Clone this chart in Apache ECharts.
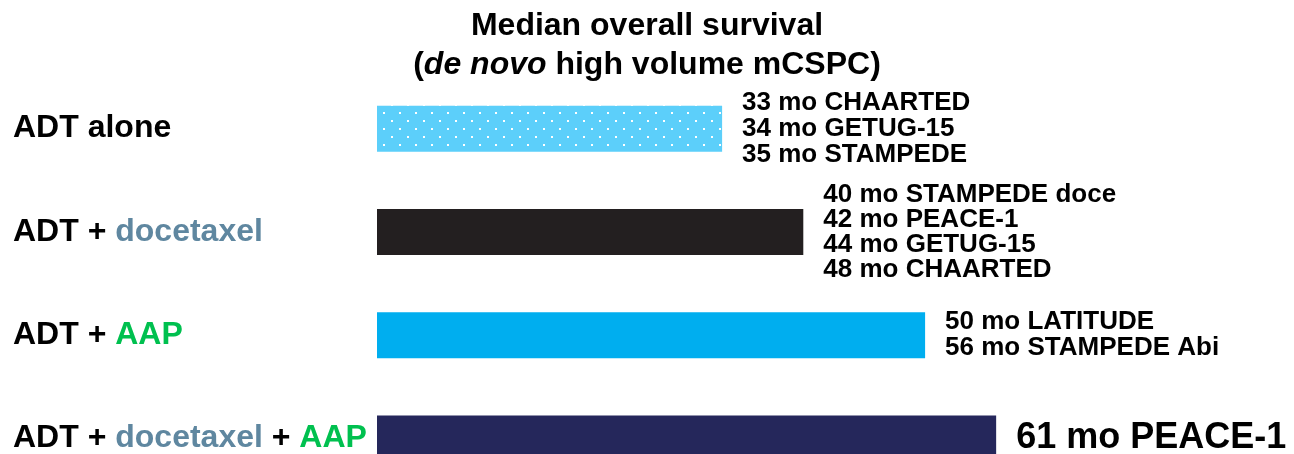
<!DOCTYPE html>
<html>
<head>
<meta charset="utf-8">
<script src="https://cdn.jsdelivr.net/npm/echarts@6/dist/echarts.min.js"></script>
<style>
  html, body { margin: 0; padding: 0; background: #fff; }
  #chart { width: 1294px; height: 454px; }
</style>
</head>
<body>
<div id="chart"></div>
<script>
// Treatment arms (top to bottom)
const categories = ['ADT alone', 'ADT + docetaxel', 'ADT + AAP', 'ADT + docetaxel + AAP'];
// Median overall survival drawn for each arm (months)
const medianOS = [34, 42, 54, 61];
// Trial results listed beside each bar
const trialNotes = [
  ['33 mo CHAARTED', '34 mo GETUG-15', '35 mo STAMPEDE'],
  ['40 mo STAMPEDE doce', '42 mo PEACE-1', '44 mo GETUG-15', '48 mo CHAARTED'],
  ['50 mo LATITUDE', '56 mo STAMPEDE Abi'],
  ['61 mo PEACE-1']
];
const barColors = ['#5ccffa', '#231f20', '#00aeef', '#25275b'];

const FONT = "'Liberation Sans', Arial, Helvetica, sans-serif";

// Dotted fill for the ADT-alone bar
function dotPattern() {
  const c = document.createElement('canvas');
  c.width = 16; c.height = 16;
  const g = c.getContext('2d');
  g.fillStyle = barColors[0];
  g.fillRect(0, 0, 16, 16);
  g.fillStyle = '#ffffff';
  g.fillRect(7, 8, 2, 2);
  g.fillRect(15, 0, 2, 2);
  g.fillRect(-1, 0, 2, 2);
  return c;
}

const chart = echarts.init(document.getElementById('chart'), null, { renderer: 'canvas' });

const seriesData = medianOS.map((v, i) => {
  const last = i === medianOS.length - 1;
  return {
    value: v,
    itemStyle: { color: i === 0 ? { image: dotPattern(), repeat: 'repeat' } : barColors[i] },
    label: {
      fontSize: last ? 36 : 26,
      lineHeight: last ? 40 : (i === 1 ? 25 : 26)
    }
  };
});

chart.setOption({
  animation: false,
  backgroundColor: '#ffffff',
  title: {
    left: 'center',
    top: 2,
    text: '{n|Median overall survival}\n{n|(}{i|de novo}{n| high volume mCSPC)}',
    textStyle: {
      rich: {
        n: { fontFamily: FONT, fontWeight: 'bold', fontSize: 32, lineHeight: 39, color: '#000' },
        i: { fontFamily: FONT, fontWeight: 'bold', fontStyle: 'italic', fontSize: 32, lineHeight: 39, color: '#000' }
      }
    }
  },
  grid: {
    left: 377,
    top: 77,
    width: 812,
    height: 413,
    outerBoundsMode: 'none',
    containLabel: false
  },
  xAxis: {
    type: 'value',
    min: 0,
    max: 80,
    show: false,
    splitLine: { show: false }
  },
  yAxis: {
    type: 'category',
    inverse: true,
    data: categories,
    axisLine: { show: false },
    axisTick: { show: false },
    splitLine: { show: false },
    axisLabel: {
      align: 'left',
      margin: 364,
      formatter: function (value) {
        return value.split(' ').map(function (w) {
          if (w === 'docetaxel') return '{doc|docetaxel}';
          if (w === 'AAP') return '{aap|AAP}';
          return '{b|' + w + '}';
        }).join('{b| }');
      },
      rich: {
        b: { fontFamily: FONT, fontWeight: 'bold', fontSize: 32, color: '#000' },
        doc: { fontFamily: FONT, fontWeight: 'bold', fontSize: 32, color: '#5f87a0' },
        aap: { fontFamily: FONT, fontWeight: 'bold', fontSize: 32, color: '#00c04f' }
      }
    }
  },
  series: [{
    type: 'bar',
    data: seriesData,
    barWidth: 46,
    label: {
      show: true,
      position: 'right',
      distance: 20,
      align: 'left',
      fontFamily: FONT,
      fontWeight: 'bold',
      color: '#000',
      formatter: function (p) { return trialNotes[p.dataIndex].join('\n'); }
    }
  }]
});
</script>
</body>
</html>
